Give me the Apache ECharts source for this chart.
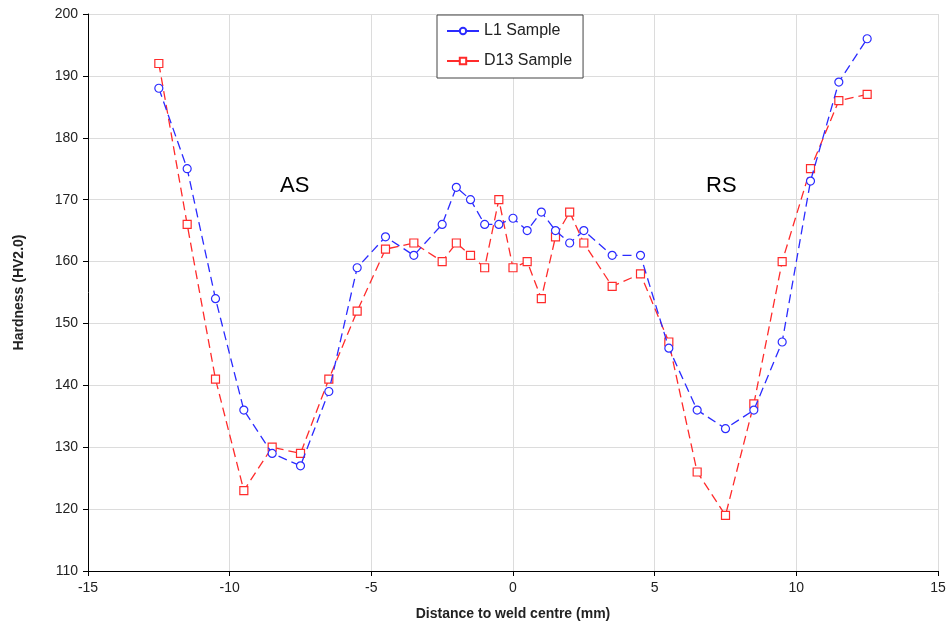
<!DOCTYPE html>
<html>
<head>
<meta charset="utf-8">
<script src="https://cdn.jsdelivr.net/npm/echarts@6/dist/echarts.min.js"></script>
<style>
  html, body { margin: 0; padding: 0; background: #fff; }
  #chart { width: 952px; height: 637px; }
</style>
</head>
<body>
<div id="chart"></div>
<script>
// distance to weld centre (mm)
const distance = [-12.5, -11.5, -10.5, -9.5, -8.5, -7.5, -6.5, -5.5, -4.5, -3.5, -2.5, -2, -1.5, -1, -0.5,
  0, 0.5, 1, 1.5, 2, 2.5, 3.5, 4.5, 5.5, 6.5, 7.5, 8.5, 9.5, 10.5, 11.5, 12.5]
// hardness HV2.0
const l1Hardness = [188, 175, 154, 136, 129, 127, 139, 159, 164, 161, 166, 172, 170, 166, 166,
  167, 165, 168, 165, 163, 165, 161, 161, 146, 136, 133, 136, 147, 173, 189, 196]
const d13Hardness = [192, 166, 141, 123, 130, 129, 141, 152, 162, 163, 160, 163, 161, 159, 170,
  159, 160, 154, 164, 168, 163, 156, 158, 147, 126, 119, 137, 160, 175, 186, 187]
const seriesNames = ['L1 Sample', 'D13 Sample']

const font = 'Liberation Sans, Arial, sans-serif'
const blue = '#2b2bff'
const red = '#ff2b2b'

function pairs(xs, ys) {
  return xs.map((x, i) => [x, ys[i]])
}

const chart = echarts.init(document.getElementById('chart'))

const axisCommon = {
  axisLine: { show: true, onZero: false, lineStyle: { color: '#000', width: 1 } },
  axisTick: { show: true, inside: false, length: 5, lineStyle: { color: '#000' } },
  splitLine: { show: true, lineStyle: { color: '#dcdcdc', width: 1 } },
  axisLabel: { color: '#222', fontSize: 14, fontFamily: font, margin: 10 },
  nameTextStyle: { color: '#222', fontSize: 14, fontWeight: 'bold', fontFamily: font },
}

chart.setOption({
  animation: false,
  grid: { left: 88, right: 14, top: 14, bottom: 66 },
  legend: {
    orient: 'vertical',
    left: 437,
    top: 15,
    padding: [8, 11, 9, 9],
    itemGap: 14,
    itemWidth: 32,
    itemHeight: 8,
    borderColor: '#444',
    borderWidth: 1,
    backgroundColor: '#fff',
    textStyle: { color: '#222', fontSize: 16, fontFamily: font },
    data: [
      { name: seriesNames[0], lineStyle: { type: 'solid' } },
      { name: seriesNames[1], lineStyle: { type: 'solid' } },
    ],
  },
  xAxis: Object.assign({}, axisCommon, {
    type: 'value',
    min: -15,
    max: 15,
    interval: 5,
    name: 'Distance to weld centre (mm)',
    nameLocation: 'middle',
    nameGap: 36,
  }),
  yAxis: Object.assign({}, axisCommon, {
    type: 'value',
    min: 110,
    max: 200,
    interval: 10,
    name: 'Hardness (HV2.0)',
    nameLocation: 'middle',
    nameGap: 62,
  }),
  series: [
    {
      name: seriesNames[0],
      type: 'line',
      data: pairs(distance, l1Hardness),
      symbol: 'circle',
      symbolSize: 8,
      showSymbol: true,
      showAllSymbol: true,
      color: blue,
      lineStyle: { type: [9, 5], width: 1.3, color: blue },
      itemStyle: { color: '#fff', borderColor: blue, borderWidth: 1.2 },
      z: 3,
    },
    {
      name: seriesNames[1],
      type: 'line',
      data: pairs(distance, d13Hardness),
      symbol: 'rect',
      symbolSize: 8,
      showSymbol: true,
      showAllSymbol: true,
      color: red,
      lineStyle: { type: [9, 5], width: 1.3, color: red },
      itemStyle: { color: '#fff', borderColor: red, borderWidth: 1.2 },
      z: 2,
    },
  ],
  graphic: [
    { type: 'text', left: 280, top: 175, style: { text: 'AS', fontSize: 22, fontFamily: font, fill: '#000' } },
    { type: 'text', left: 706, top: 175, style: { text: 'RS', fontSize: 22, fontFamily: font, fill: '#000' } },
  ],
})
</script>
</body>
</html>
